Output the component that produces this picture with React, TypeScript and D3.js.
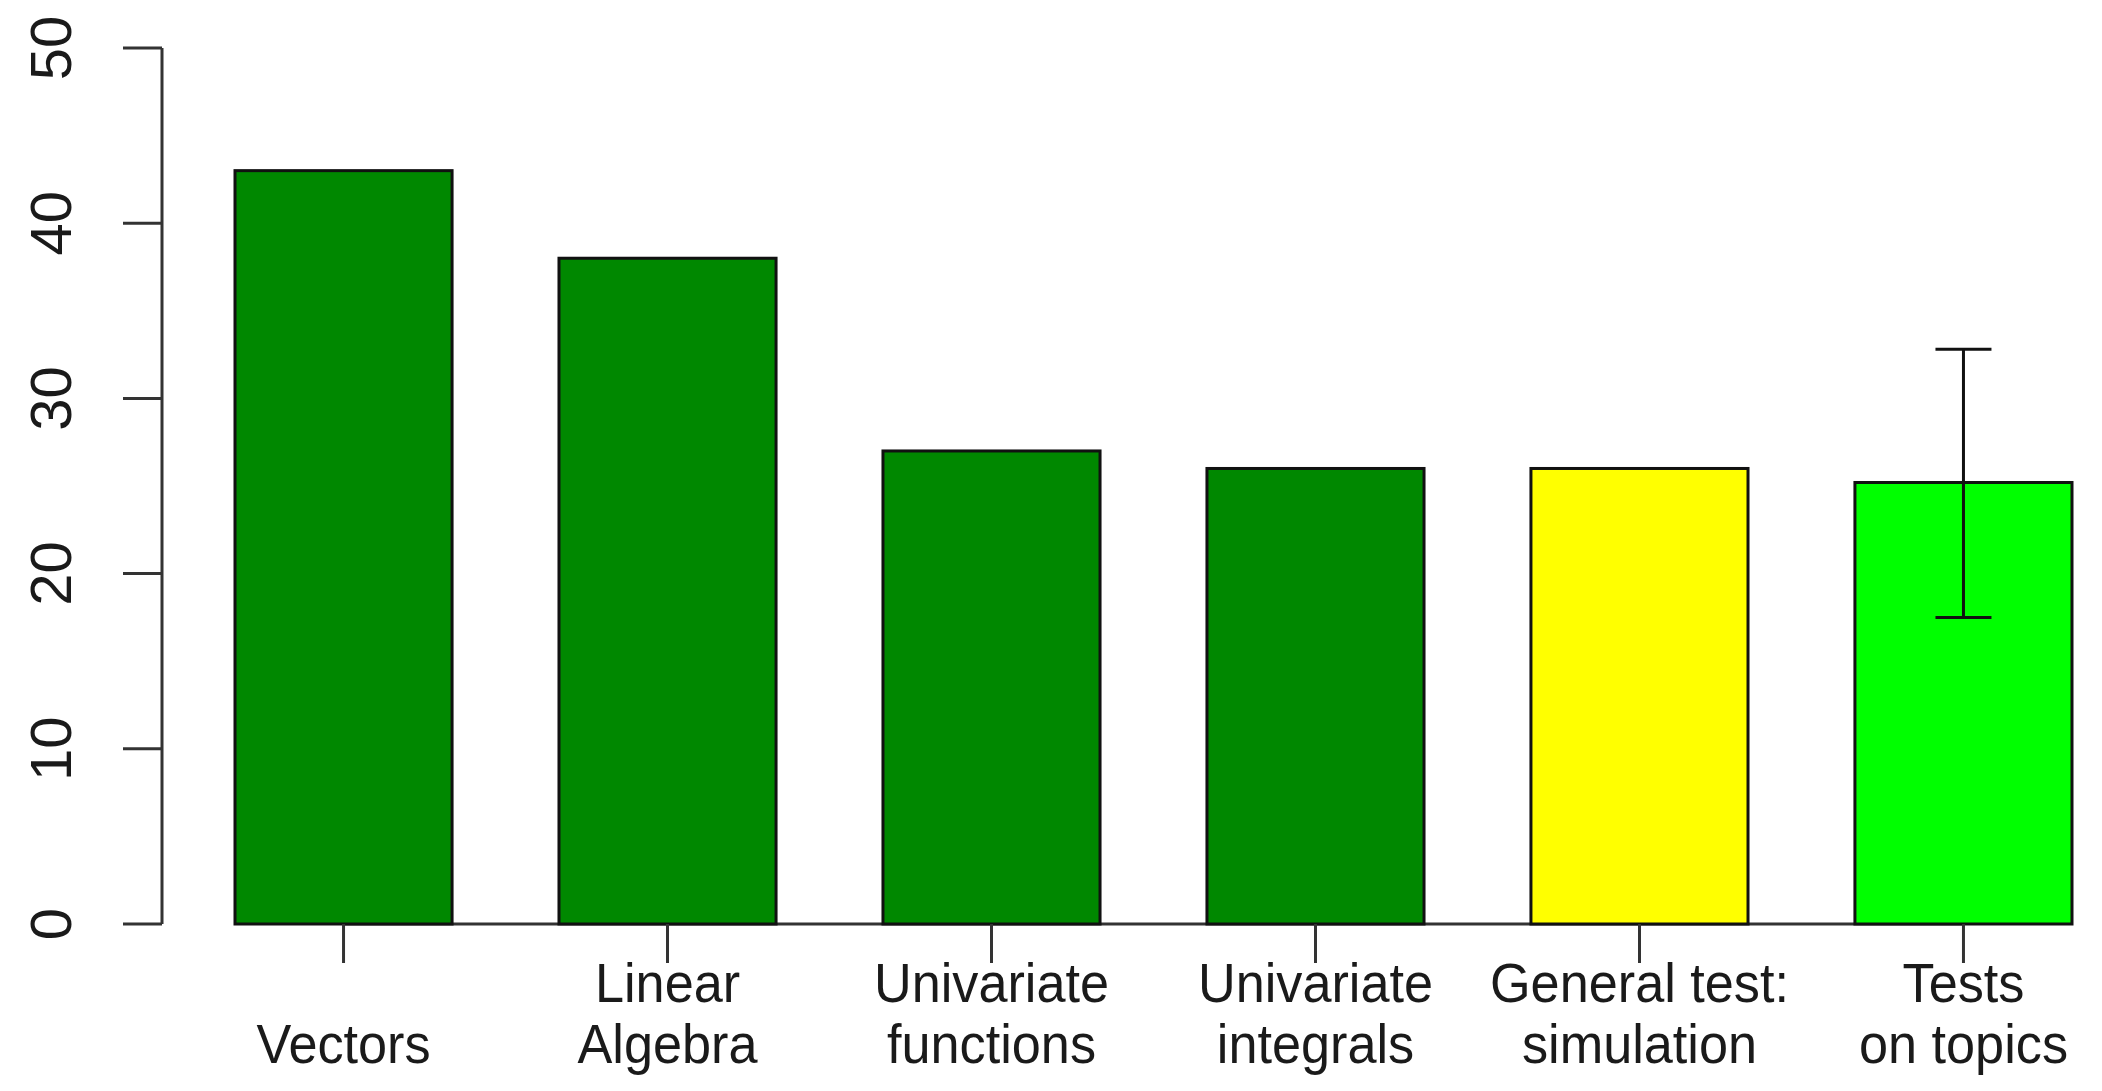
import React from "react";
import * as d3 from "d3";

const categories = ["Vectors", "Linear Algebra", "Univariate functions", "Univariate integrals", "General test: simulation", "Tests on topics"];
const labelLines = [["", "Vectors"], ["Linear", "Algebra"], ["Univariate", "functions"], ["Univariate", "integrals"], ["General test:", "simulation"], ["Tests", "on topics"]];
const values = [43, 38, 27, 26, 26, 25.2];
const barColors = ["#008800", "#008800", "#008800", "#008800", "#FFFF00", "#00FF00"];
const errorCategory = "Tests on topics";
const errorLow = 17.5;
const errorHigh = 32.8;
const yTicks = [0, 10, 20, 30, 40, 50];

const W = 2102;
const H = 1091;

export default function App() {
  const x = d3.scaleBand<string>().domain(categories).range([235, 2072]).paddingInner(0.33).paddingOuter(0);
  const y = d3.scaleLinear().domain([0, 50]).range([924, 48]);
  const axisColor = "#333";
  const font = "'Liberation Sans', Arial, Helvetica, sans-serif";
  const firstC = x(categories[0])! + x.bandwidth() / 2;
  const lastC = x(categories[categories.length - 1])! + x.bandwidth() / 2;
  const ex = x(errorCategory)! + x.bandwidth() / 2;
  return (
    <svg width={W} height={H} style={{ position: "absolute", left: 0, top: 0, background: "#fff" }}>
      {/* y axis */}
      <line x1={162} x2={162} y1={y(0)} y2={y(50)} stroke={axisColor} strokeWidth={3} />
      {yTicks.map((t) => (
        <g key={t}>
          <line x1={123} x2={162} y1={y(t)} y2={y(t)} stroke={axisColor} strokeWidth={3} />
          <text
            transform={`translate(71,${y(t)}) rotate(-90)`}
            textAnchor="middle"
            fontFamily={font}
            fontSize={58}
            fill="#1a1a1a"
          >
            {t}
          </text>
        </g>
      ))}
      {/* x axis line */}
      <line x1={firstC} x2={lastC} y1={y(0)} y2={y(0)} stroke={axisColor} strokeWidth={3} />
      {/* bars */}
      {categories.map((c, i) => (
        <rect
          key={c}
          x={x(c)!}
          y={y(values[i])}
          width={x.bandwidth()}
          height={y(0) - y(values[i])}
          fill={barColors[i]}
          stroke="#111"
          strokeWidth={3}
        />
      ))}
      {/* x ticks and labels */}
      {categories.map((c, i) => {
        const cx = x(c)! + x.bandwidth() / 2;
        return (
          <g key={c}>
            <line x1={cx} x2={cx} y1={y(0)} y2={963} stroke={axisColor} strokeWidth={3} />
            {labelLines[i].map((l, j) =>
              l ? (
                <text
                  key={j}
                  transform={`translate(${cx},${1002 + j * 61}) scale(0.95,1)`}
                  textAnchor="middle"
                  fontFamily={font}
                  fontSize={55}
                  fill="#1a1a1a"
                >
                  {l}
                </text>
              ) : null
            )}
          </g>
        );
      })}
      {/* error bar */}
      <line x1={ex} x2={ex} y1={y(errorLow)} y2={y(errorHigh)} stroke="#111" strokeWidth={3} />
      <line x1={ex - 28} x2={ex + 28} y1={y(errorLow)} y2={y(errorLow)} stroke="#111" strokeWidth={3} />
      <line x1={ex - 28} x2={ex + 28} y1={y(errorHigh)} y2={y(errorHigh)} stroke="#111" strokeWidth={3} />
    </svg>
  );
}
